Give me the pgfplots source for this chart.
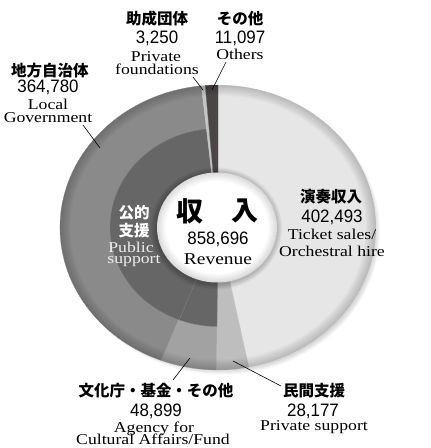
\documentclass[border=0pt]{standalone}
\usepackage{fontspec}
\setmainfont{Liberation Serif}[FakeStretch=1.18]
\newfontfamily\jp{Noto Sans CJK JP}
\newfontfamily\numf{Liberation Sans}[FakeStretch=0.94]
\usepackage{pgfplots}
\usepackage{pgfplotstable}
\pgfplotsset{compat=1.18}

\definecolor{cTick}{HTML}{E6E6E6}
\definecolor{cPriv}{HTML}{BEBEBE}
\definecolor{cAgency}{HTML}{A2A2A2}
\definecolor{cLocal}{HTML}{8A8A8A}
\definecolor{cFound}{HTML}{C4C4C4}
\definecolor{cOther}{HTML}{4A4645}
\definecolor{cInner}{HTML}{666666}

% revenue by source, clockwise from 12 o'clock
\pgfplotstableread{
item   value  fillc   pub
tick   402493 cTick   0
priv   28177  cPriv   0
agency 48899  cAgency 1
local  364780 cLocal  1
found  3250   cFound  0
other  11097  cOther  0
}\revenue

\tikzset{
  jlab/.style={font=\jp\bfseries\fontsize{15.5}{17}\selectfont, inner sep=0pt},
  nlab/.style={font=\numf\fontsize{18}{20}\selectfont, inner sep=0pt, anchor=base},
  elab/.style={font=\fontsize{15}{14}\selectfont, inner sep=0pt, anchor=base},
}

\begin{document}
\begin{tikzpicture}
\path[use as bounding box] (0,0) rectangle (431pt,448pt);
\begin{axis}[
    x=1pt, y=1pt,
    xmin=0, xmax=431, ymin=0, ymax=448,
    hide axis, clip=false,
  ]
  \def\C{axis cs:218,220.5}
  % soft shadow of the disc
  \pgfplotsinvokeforeach{1,...,9}{
    \fill[black, opacity=0.033] (axis cs:222,216.5) ellipse [x radius={149pt+#1pt}, y radius={134pt+#1pt}];
  }
  % slices
  \pgfplotstablegetrowsof{\revenue}
  \pgfmathtruncatemacro\lastrow{\pgfplotsretval-1}
  \def\cum{0}
  \pgfplotsforeachungrouped \i in {0,...,\lastrow}{%
    \pgfplotstablegetelem{\i}{value}\of\revenue \let\rv\pgfplotsretval
    \pgfplotstablegetelem{\i}{fillc}\of\revenue \let\rc\pgfplotsretval
    \pgfplotstablegetelem{\i}{pub}\of\revenue \let\rp\pgfplotsretval
    \edef\angA{\fpeval{round(90-\cum*360/858696,4)}}%
    \edef\cum{\fpeval{\cum+\rv}}%
    \edef\angB{\fpeval{round(90-\cum*360/858696,4)}}%
    \edef\temp{\noexpand\fill[\rc, draw=white!20!\rc, line width=0.3pt]
      (\C) -- ++(\angA:158pt and 142.5pt)
      arc[start angle=\angA, end angle=\angB, x radius=158pt, y radius=142.5pt] -- cycle;}%
    \temp
    \ifnum\rp=1
      \edef\temp{\noexpand\fill[cInner, draw=white!15!cInner, line width=0.3pt]
        (\C) -- ++(\angA:108pt and 99pt)
        arc[start angle=\angA, end angle=\angB, x radius=108pt, y radius=99pt] -- cycle;}%
      \temp
    \fi
  }
  % darker rim
  \pgfplotsinvokeforeach{1,...,8}{
    \fill[black, opacity=0.022, even odd rule] (\C) ellipse [x radius=158pt, y radius=142.5pt]
      (\C) ellipse [x radius={158pt-#1*1.3pt}, y radius={142.5pt-#1*1.3pt}];
  }
  % centre disc
  \pgfplotsinvokeforeach{1,...,6}{
    \fill[black, opacity=0.04] (axis cs:216,219.5) ellipse [x radius={60pt+#1pt}, y radius={55pt+#1pt}];
  }
  \fill[white] (axis cs:217,220.5) ellipse [x radius=60pt, y radius=55pt];
  \pgfplotsinvokeforeach{1,...,7}{
    \fill[black, opacity=0.02, even odd rule] (axis cs:217,220.5) ellipse [x radius=60pt, y radius=55pt]
      (axis cs:217,220.5) ellipse [x radius={60pt-#1*1.2pt}, y radius={55pt-#1*1.2pt}];
  }

  % leader lines
  \draw[line width=0.6pt] (axis cs:83,323) -- (axis cs:100,300);
  \draw[line width=0.6pt] (axis cs:193,371) -- (axis cs:203,358);
  \draw[line width=0.6pt] (axis cs:226,386) -- (axis cs:212,358);
  \draw[line width=0.6pt] (axis cs:190,90) -- (axis cs:173,68);
  \draw[line width=0.6pt] (axis cs:233,87) -- (axis cs:281,62);

  % labels
  \node[jlab] at (axis cs:157,429) {助成団体};
  \node[nlab] at (axis cs:157,404.5) {3,250};
  \node[elab] at (axis cs:156,386) {Private};
  \node[elab] at (axis cs:157,373) {foundations};

  \node[jlab] at (axis cs:240,429) {その他};
  \node[nlab] at (axis cs:240,404.5) {11,097};
  \node[elab] at (axis cs:240,388) {Others};

  \node[jlab] at (axis cs:50,377) {地方自治体};
  \node[nlab] at (axis cs:48,355) {364,780};
  \node[elab] at (axis cs:48,338) {Local};
  \node[elab] at (axis cs:48,325) {Government};

  \node[jlab, text=white] at (axis cs:134,235) {公的};
  \node[jlab, text=white] at (axis cs:134,217) {支援};
  \node[elab, text=white!93!black] at (axis cs:131,195) {Public};
  \node[elab, text=white!93!black] at (axis cs:134,184) {support};

  \node[font=\jp\bfseries\fontsize{27}{30}\selectfont, inner sep=0pt] at (axis cs:190,237) {収};
  \node[font=\jp\bfseries\fontsize{27}{30}\selectfont, inner sep=0pt] at (axis cs:245,237) {入};
  \node[nlab] at (axis cs:218,203) {858,696};
  \node[font=\fontsize{16.5}{20}\selectfont, inner sep=0pt, anchor=base] at (axis cs:218,183) {Revenue};

  \node[jlab] at (axis cs:331,251) {演奏収入};
  \node[nlab] at (axis cs:332,225) {402,493};
  \node[elab] at (axis cs:332,208) {Ticket sales/};
  \node[elab] at (axis cs:332,191) {Orchestral hire};

  \node[jlab] at (axis cs:156,57.5) {文化庁・基金・その他};
  \node[nlab] at (axis cs:156,31) {48,899};
  \node[elab] at (axis cs:154,16) {Agency for};
  \node[elab] at (axis cs:153,3) {Cultural Affairs/Fund};

  \node[jlab] at (axis cs:314,57.5) {民間支援};
  \node[nlab] at (axis cs:313,31) {28,177};
  \node[elab] at (axis cs:314,17) {Private support};
\end{axis}
\end{tikzpicture}
\end{document}
